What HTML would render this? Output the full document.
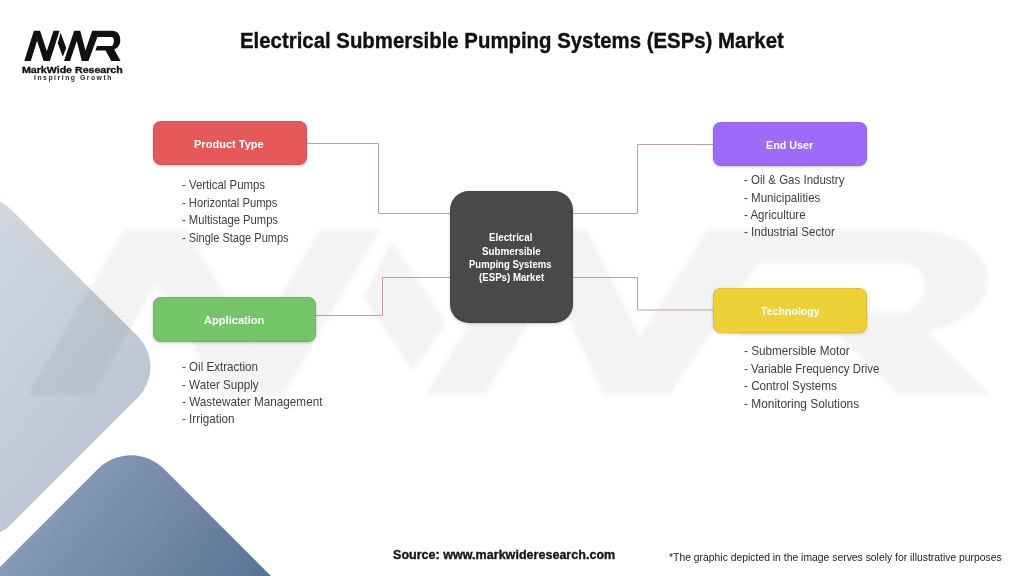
<!DOCTYPE html>
<html><head><meta charset="utf-8"><title>ESPs Market</title>
<style>
html,body{margin:0;padding:0;width:1024px;height:576px;overflow:hidden;background:#ffffff}
.t{position:absolute;white-space:nowrap;font-family:"Liberation Sans",sans-serif;transform-origin:0 0}
.box{position:absolute;border-radius:8px;box-shadow:inset 0 0 0 1px rgba(0,0,0,0.07),0 1px 3px rgba(0,0,0,0.2)}
</style></head><body>
<svg width="1024" height="576" viewBox="0 0 1024 576" style="position:absolute;left:0;top:0">
<defs>
<linearGradient id="gl" gradientUnits="userSpaceOnUse" x1="-40" y1="240" x2="160" y2="404"><stop offset="0" stop-color="#d1d7e3"/><stop offset="1" stop-color="#bbc6d2"/></linearGradient>
<linearGradient id="gd" gradientUnits="userSpaceOnUse" x1="60" y1="470" x2="260" y2="634"><stop offset="0" stop-color="#8a9cb8"/><stop offset="1" stop-color="#536f8f"/></linearGradient>
<filter id="blur" x="-10%" y="-10%" width="120%" height="120%"><feGaussianBlur stdDeviation="2"/></filter>
</defs>
<path d="M-50.76,209.26 A43.5,43.5 0 0 1 10.76,209.26 L137.74,336.24 A43.5,43.5 0 0 1 137.74,397.76 L10.76,524.74 A43.5,43.5 0 0 1 -50.76,524.74 L-177.74,397.76 A43.5,43.5 0 0 1 -177.74,336.24 Z" fill="url(#gl)"/>
<path d="M98.19,468.81 A46.4,46.4 0 0 1 163.81,468.81 L298.19,603.19 A46.4,46.4 0 0 1 298.19,668.81 L163.81,803.19 A46.4,46.4 0 0 1 98.19,803.19 L-36.19,668.81 A46.4,46.4 0 0 1 -36.19,603.19 Z" fill="url(#gd)"/>
<g filter="url(#blur)" opacity="0.045"><g transform="translate(-215,59.6) scale(10,5.5)" fill="#000"><polygon points="24.30,61.00 33.90,30.80 40.10,30.80 46.80,51.20 53.50,30.80 59.60,30.80 49.90,61.00 43.60,61.00 37.10,40.80 30.80,61.00"/><polygon points="60.60,32.70 57.80,43.30 62.80,56.80 66.20,48.00"/><polygon points="64.00,61.00 74.20,30.80 80.20,30.80 88.40,61.00 81.80,61.00 76.80,41.00 70.00,61.00"/><path d="M81.8,61 L92.2,30.8 L112,30.8 C117.5,30.8 120.3,35 120.3,40 C120.3,44.5 117.8,48.3 114.3,49.4 L120.6,61 L111.3,61 L105.6,50.4 L95.3,50.4 L97,46 L111.5,46 C113,46 113.9,43.5 113.9,40.8 C113.9,38.5 113,37 111.5,37 L97.4,37 L88.4,61 Z"/></g></g><path d="M307,143.5 H378.5 V213.5 H450" fill="none" stroke="#c29ea2" stroke-width="1"/><path d="M316,315.5 H382.5 V277.5 H450" fill="none" stroke="#c29ea2" stroke-width="1"/><path d="M560,213.5 H637.5 V144.5 H713" fill="none" stroke="#c29ea2" stroke-width="1"/><path d="M560,277.5 H637.5 V310 H713" fill="none" stroke="#c29ea2" stroke-width="1"/></svg>
<div class="box" style="left:153px;top:121px;width:154px;height:44px;background:#e65959"></div>
<div class="box" style="left:153px;top:297px;width:163px;height:44.5px;background:#74c468"></div>
<div class="box" style="left:713px;top:122.2px;width:154px;height:44.3px;background:#9b6cf8"></div>
<div class="box" style="left:713px;top:288px;width:154px;height:45px;background:#eed038"></div>
<div class="box" style="left:450px;top:191px;width:123px;height:132px;border-radius:19px;background:#494949"></div>
<div class="t" style="left:239.84px;top:30.00px;font-size:21.2px;line-height:21.2px;font-weight:700;color:#111111;transform:scaleX(0.9621);-webkit-text-stroke:0.35px #111111">Electrical Submersible Pumping Systems (ESPs) Market</div>
<div class="t" style="left:193.83px;top:139.00px;font-size:11.4px;line-height:11.4px;font-weight:700;color:#ffffff;transform:scaleX(0.9690)">Product Type</div>
<div class="t" style="left:204.00px;top:314.90px;font-size:11.4px;line-height:11.4px;font-weight:700;color:#ffffff;transform:scaleX(0.9738)">Application</div>
<div class="t" style="left:765.86px;top:140.10px;font-size:11.4px;line-height:11.4px;font-weight:700;color:#ffffff;transform:scaleX(0.9449)">End User</div>
<div class="t" style="left:760.50px;top:306.20px;font-size:11.4px;line-height:11.4px;font-weight:700;color:#ffffff;transform:scaleX(0.9302)">Technology</div>
<div class="t" style="left:488.98px;top:231.80px;font-size:10.6px;line-height:10.6px;font-weight:700;color:#ffffff;transform:scaleX(0.9217)">Electrical</div>
<div class="t" style="left:482.00px;top:245.60px;font-size:10.6px;line-height:10.6px;font-weight:700;color:#ffffff;transform:scaleX(0.9238)">Submersible</div>
<div class="t" style="left:469.30px;top:258.90px;font-size:10.6px;line-height:10.6px;font-weight:700;color:#ffffff;transform:scaleX(0.8989)">Pumping Systems</div>
<div class="t" style="left:478.60px;top:271.90px;font-size:10.6px;line-height:10.6px;font-weight:700;color:#ffffff;transform:scaleX(0.9141)">(ESPs) Market</div>
<div class="t" style="left:181.70px;top:179.40px;font-size:12.2px;line-height:12.2px;font-weight:400;color:#404040;transform:scaleX(0.9360)">- Vertical Pumps</div>
<div class="t" style="left:181.70px;top:196.80px;font-size:12.2px;line-height:12.2px;font-weight:400;color:#404040;transform:scaleX(0.9201)">- Horizontal Pumps</div>
<div class="t" style="left:181.70px;top:214.20px;font-size:12.2px;line-height:12.2px;font-weight:400;color:#404040;transform:scaleX(0.9201)">- Multistage Pumps</div>
<div class="t" style="left:181.70px;top:231.50px;font-size:12.2px;line-height:12.2px;font-weight:400;color:#404040;transform:scaleX(0.9042)">- Single Stage Pumps</div>
<div class="t" style="left:182.10px;top:360.60px;font-size:12.2px;line-height:12.2px;font-weight:400;color:#404040;transform:scaleX(0.9506)">- Oil Extraction</div>
<div class="t" style="left:182.10px;top:378.50px;font-size:12.2px;line-height:12.2px;font-weight:400;color:#404040;transform:scaleX(0.9568)">- Water Supply</div>
<div class="t" style="left:182.10px;top:396.00px;font-size:12.2px;line-height:12.2px;font-weight:400;color:#404040;transform:scaleX(0.9630)">- Wastewater Management</div>
<div class="t" style="left:182.10px;top:413.40px;font-size:12.2px;line-height:12.2px;font-weight:400;color:#404040;transform:scaleX(0.9568)">- Irrigation</div>
<div class="t" style="left:743.60px;top:173.70px;font-size:12.2px;line-height:12.2px;font-weight:400;color:#404040;transform:scaleX(0.9443)">- Oil &amp; Gas Industry</div>
<div class="t" style="left:743.60px;top:191.50px;font-size:12.2px;line-height:12.2px;font-weight:400;color:#404040;transform:scaleX(0.9472)">- Municipalities</div>
<div class="t" style="left:743.60px;top:208.60px;font-size:12.2px;line-height:12.2px;font-weight:400;color:#404040;transform:scaleX(0.9472)">- Agriculture</div>
<div class="t" style="left:743.60px;top:226.00px;font-size:12.2px;line-height:12.2px;font-weight:400;color:#404040;transform:scaleX(0.9500)">- Industrial Sector</div>
<div class="t" style="left:744.00px;top:345.30px;font-size:12.2px;line-height:12.2px;font-weight:400;color:#404040;transform:scaleX(0.9627)">- Submersible Motor</div>
<div class="t" style="left:744.00px;top:362.80px;font-size:12.2px;line-height:12.2px;font-weight:400;color:#404040;transform:scaleX(0.9396)">- Variable Frequency Drive</div>
<div class="t" style="left:744.00px;top:380.00px;font-size:12.2px;line-height:12.2px;font-weight:400;color:#404040;transform:scaleX(0.9598)">- Control Systems</div>
<div class="t" style="left:744.00px;top:397.50px;font-size:12.2px;line-height:12.2px;font-weight:400;color:#404040;transform:scaleX(0.9771)">- Monitoring Solutions</div>
<div class="t" style="left:21.67px;top:64.90px;font-size:9.4px;line-height:9.4px;font-weight:700;color:#111111;transform:scaleX(1.1318);-webkit-text-stroke:0.35px #111111">MarkWide Research</div>
<div class="t" style="left:33.80px;top:75.20px;font-size:6.8px;line-height:6.8px;font-weight:700;color:#2a2a2a;transform:scaleX(1.0001);letter-spacing:1.533px">Inspiring Growth</div>
<div class="t" style="left:392.93px;top:547.75px;font-size:13px;line-height:13px;font-weight:700;color:#141414;transform:scaleX(0.9662);-webkit-text-stroke:0.35px #141414">Source: www.markwideresearch.com</div>
<div class="t" style="left:668.50px;top:552.80px;font-size:10.4px;line-height:10.4px;font-weight:400;color:#222222;transform:scaleX(0.9985)">*The graphic depicted in the image serves solely for illustrative purposes</div>
<svg width="140" height="90" viewBox="0 0 140 90" style="position:absolute;left:0;top:0">
<g fill="#111"><polygon points="24.30,61.00 33.90,30.80 40.10,30.80 46.80,51.20 53.50,30.80 59.60,30.80 49.90,61.00 43.60,61.00 37.10,40.80 30.80,61.00"/><polygon points="60.60,32.70 57.80,43.30 62.80,56.80 66.20,48.00"/><polygon points="64.00,61.00 74.20,30.80 80.20,30.80 88.40,61.00 81.80,61.00 76.80,41.00 70.00,61.00"/><path d="M81.8,61 L92.2,30.8 L112,30.8 C117.5,30.8 120.3,35 120.3,40 C120.3,44.5 117.8,48.3 114.3,49.4 L120.6,61 L111.3,61 L105.6,50.4 L95.3,50.4 L97,46 L111.5,46 C113,46 113.9,43.5 113.9,40.8 C113.9,38.5 113,37 111.5,37 L97.4,37 L88.4,61 Z"/></g>
</svg>
</body></html>
